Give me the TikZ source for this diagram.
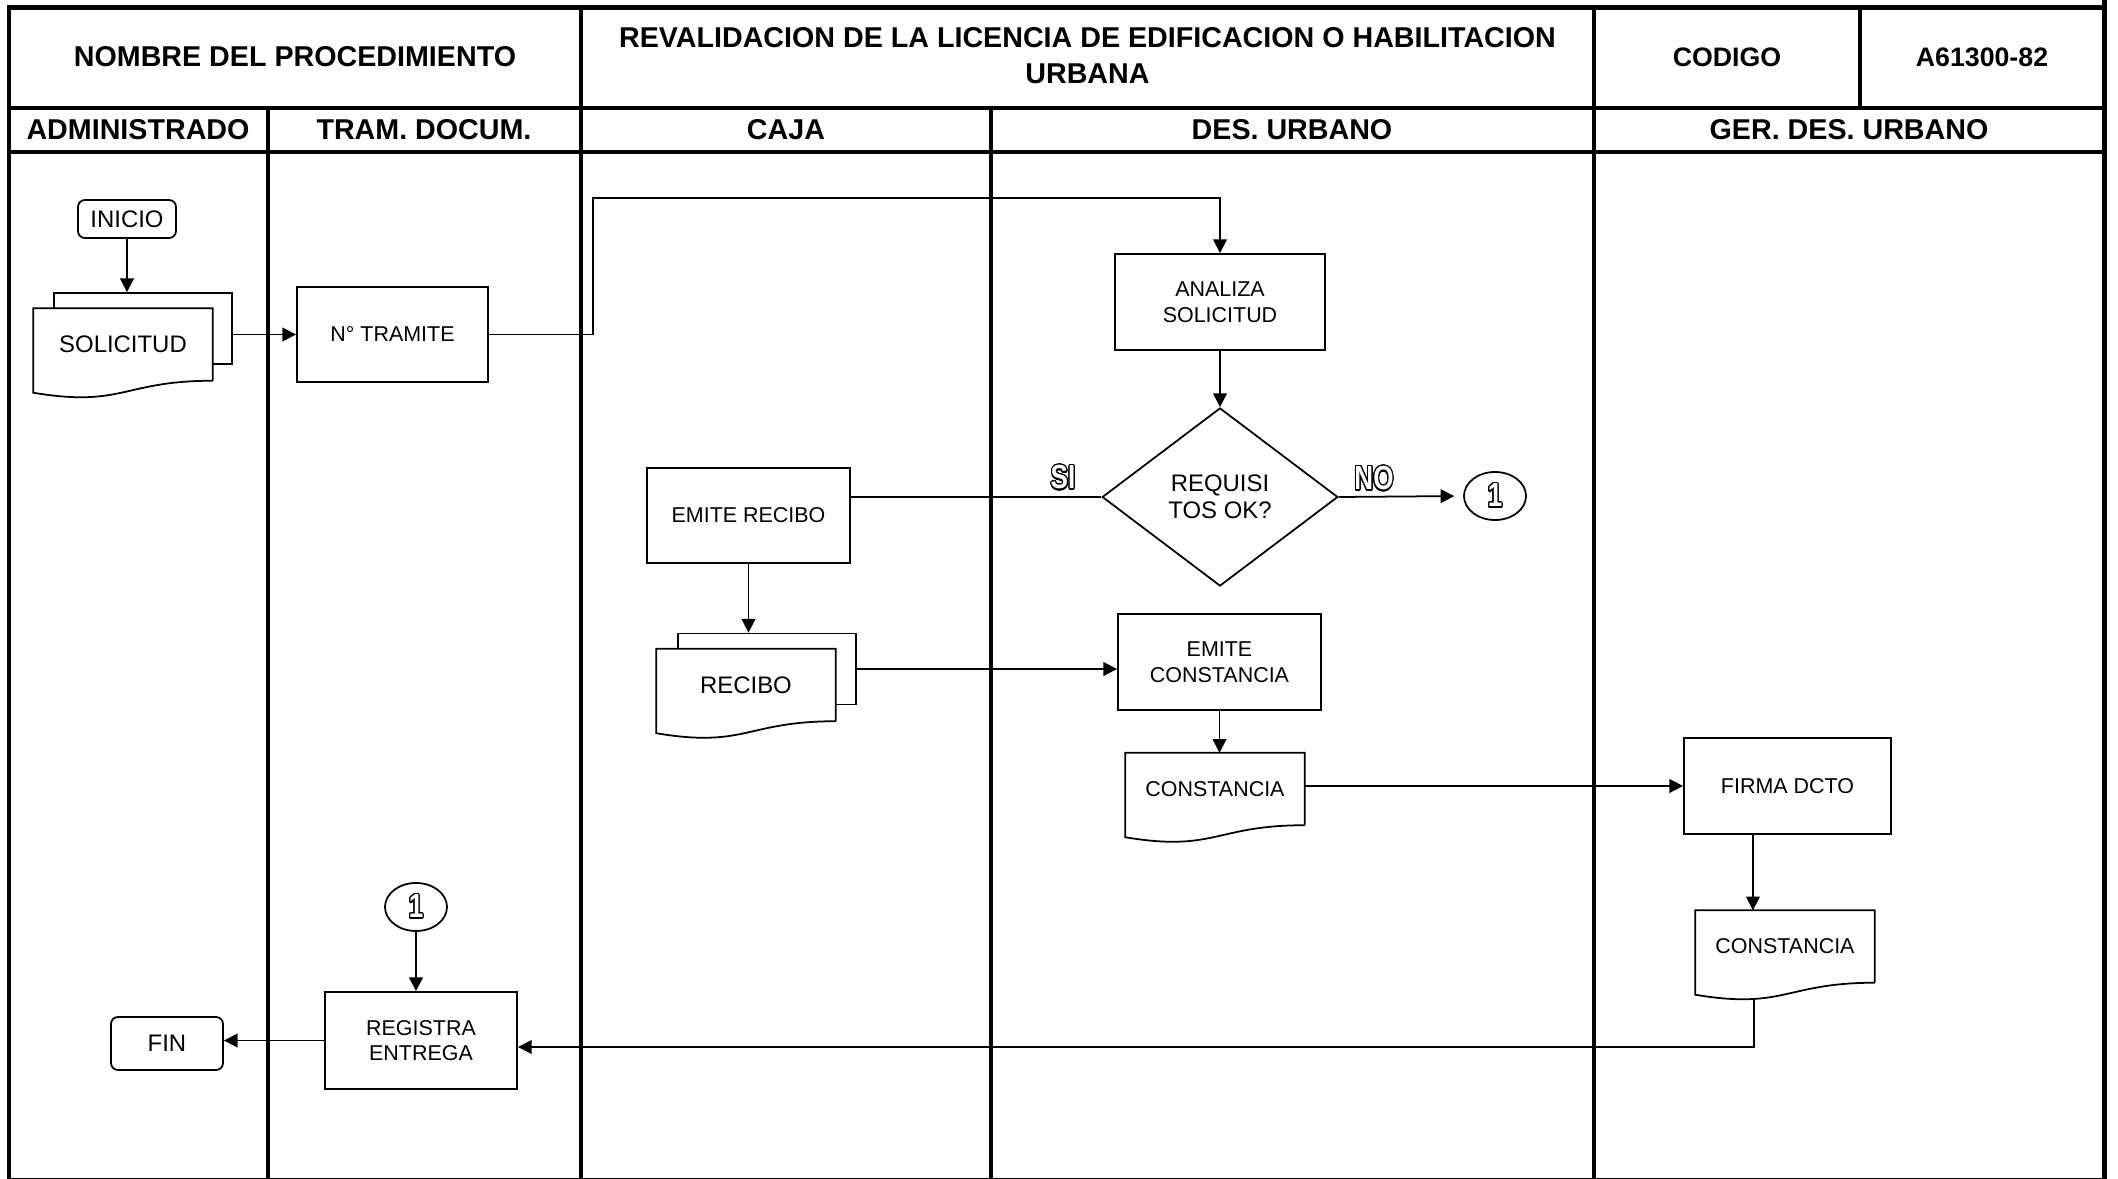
\documentclass[tikz,border=0pt]{standalone}
\usepackage{fontspec}
\setmainfont{Liberation Sans}
\usepackage{contour}
\usetikzlibrary{arrows.meta,positioning,calc,shapes.geometric}
\contourlength{0.4pt}
\contournumber{24}

% document outline with wavy bottom, drawn from the anchors of a node
\newcommand{\docshape}[1]{%
  \draw[wire] (#1.south east) -- (#1.north east) -- (#1.north west)
    -- ([yshift=-0.12cm]#1.south west)
    .. controls ([yshift=-0.27cm]#1.south) and (#1.south) .. (#1.south east);}
% outlined label
\newcommand{\hollowtxt}[1]{\scalebox{0.78}[1]{\contour{black}{#1}}}

\begin{document}
\begin{tikzpicture}[
  x=0.01cm, y=-0.01cm,
  lane/.style={line width=1.4pt},
  wire/.style={line width=0.5pt},
  arr/.style={wire, -{Triangle[length=3.9pt,width=3.9pt]}},
  head/.style={font=\fontsize{8.15}{10.2}\selectfont\bfseries, align=center},
  proc/.style={draw, wire, align=center, inner sep=0pt, font=\fontsize{6.1}{7.3}\selectfont},
  term/.style={draw, wire, rounded corners=2pt, inner sep=0pt, font=\fontsize{6.8}{8.2}\selectfont},
  sheet/.style={draw, wire, fill=white, inner sep=0pt, minimum width=1.78cm, minimum height=0.71cm},
  docnode/.style={fill=white, inner sep=0pt, minimum width=1.78cm, minimum height=0.71cm, align=center},
  dec/.style={diamond, draw, wire, inner sep=0pt, align=center, minimum width=2.355cm, minimum height=1.78cm, font=\fontsize{6.8}{7.7}\selectfont},
  conn/.style={ellipse, draw, wire, inner sep=0pt, minimum width=0.62cm, minimum height=0.48cm},
  hollow/.style={text=white, font=\fontsize{9.5}{10}\selectfont\bfseries}
]
\useasboundingbox (0,0) rectangle (2118,1179);
\fill[white] (0,0) rectangle (2118,1179);

% frame and lanes
\draw[lane] (9,1180) -- (9,7.5) -- (2104.5,7.5);
\draw[lane] (2104.5,0) -- (2104.5,1180);
\draw[lane] (9,1180) -- (2104.5,1180);
\draw[lane] (9,108) -- (2104.5,108);
\draw[lane] (9,152) -- (2104.5,152);
\draw[lane] (268,108) -- (268,1180);
\draw[lane] (581,7.5) -- (581,1180);
\draw[lane] (991,108) -- (991,1180);
\draw[lane] (1594,7.5) -- (1594,1180);
\draw[lane] (1860,7.5) -- (1860,108);

% header
\node[head] (hname) at (295,57) {NOMBRE DEL PROCEDIMIENTO};
\node[head] (htitle) at (1087.5,56) {REVALIDACION DE LA LICENCIA DE EDIFICACION O HABILITACION\\URBANA};
\node[head, font=\fontsize{7.6}{9}\selectfont\bfseries] (hcode) at (1727,57) {CODIGO};
\node[head, font=\fontsize{7.6}{9}\selectfont\bfseries] (hval) at (1982,57) {A61300-82};
\node[head] (ladm) at (138,130) {ADMINISTRADO};
\node[head] (ltram) at (424,130) {TRAM. DOCUM.};
\node[head] (lcaja) at (786,130) {CAJA};
\node[head] (ldes) at (1292,130) {DES. URBANO};
\node[head] (lger) at (1849,130) {GER. DES. URBANO};

% flow
\node[term, minimum width=0.98cm, minimum height=0.38cm] (inicio) at (127,219) {INICIO};
\node[sheet] (solb) at (143,328.5) {};
\node[docnode, font=\fontsize{6.8}{8.2}\selectfont] (sol) at (123,344.5) {SOLICITUD};
\docshape{sol}
\node[proc, minimum width=1.91cm, minimum height=0.95cm] (ntram) at (392.5,334.5) {N° TRAMITE};
\node[proc, minimum width=2.10cm, minimum height=0.96cm] (analiza) at (1220,302) {ANALIZA\\SOLICITUD};
\node[dec] (req) at (1220,497) {REQUISI\\TOS OK?};
\node[conn, hollow] (c1a) at (1495,496) {\hollowtxt{1}};
\node[hollow] (si) at (1063,478) {\hollowtxt{SI}};
\node[hollow] (no) at (1374,479) {\hollowtxt{NO}};
\node[proc, minimum width=2.03cm, minimum height=0.95cm] (erec) at (748.5,515.5) {EMITE RECIBO};
\node[sheet] (recb) at (767,669) {};
\node[docnode, font=\fontsize{6.8}{8.2}\selectfont] (rec) at (746,685) {RECIBO};
\docshape{rec}
\node[proc, minimum width=2.03cm, minimum height=0.96cm] (econs) at (1219.5,662) {EMITE\\CONSTANCIA};
\node[docnode, font=\fontsize{6.1}{7.3}\selectfont] (cons1) at (1215,789) {CONSTANCIA};
\docshape{cons1}
\node[proc, minimum width=2.07cm, minimum height=0.96cm] (firma) at (1787.5,786) {FIRMA DCTO};
\node[docnode, font=\fontsize{6.1}{7.3}\selectfont] (cons2) at (1785,946.5) {CONSTANCIA};
\docshape{cons2}
\node[conn, hollow] (c1b) at (416,907) {\hollowtxt{1}};
\node[proc, minimum width=1.92cm, minimum height=0.97cm] (reg) at (421,1040.5) {REGISTRA\\ENTREGA};
\node[term, minimum width=1.12cm, minimum height=0.53cm] (fin) at (167,1043.5) {FIN};

\coordinate (up) at (593,198);
\coordinate (out) at (1754,998);

\draw[arr] (inicio.south) -- (inicio.south |- solb.north);
\draw[arr] (ntram.west -| solb.east) -- (ntram.west);
\draw[arr] (ntram.east) -| (up) -| (analiza.north);
\draw[arr] (analiza.south) -- (req.north);
\draw[wire] (req.west) -- (req.west -| erec.east);
\draw[arr, shorten >=2.5pt] (req.east) -- (c1a.west);
\draw[arr] (erec.south) -- (erec.south |- recb.north);
\draw[arr] (recb.east) -- (recb.east -| econs.west);
\draw[arr] (econs.south) -- (econs.south |- cons1.north);
\draw[arr] (cons1.east |- firma.west) -- (firma.west);
\draw[arr] ([xshift=-0.345cm]firma.south) -- ([xshift=-0.345cm]firma.south |- cons2.north);
\draw[arr] (out) |- ([yshift=-0.065cm]reg.east);
\draw[arr] (c1b.south) -- (c1b.south |- reg.north);
\draw[arr] (reg.west) -- (reg.west -| fin.east);
\end{tikzpicture}
\end{document}
